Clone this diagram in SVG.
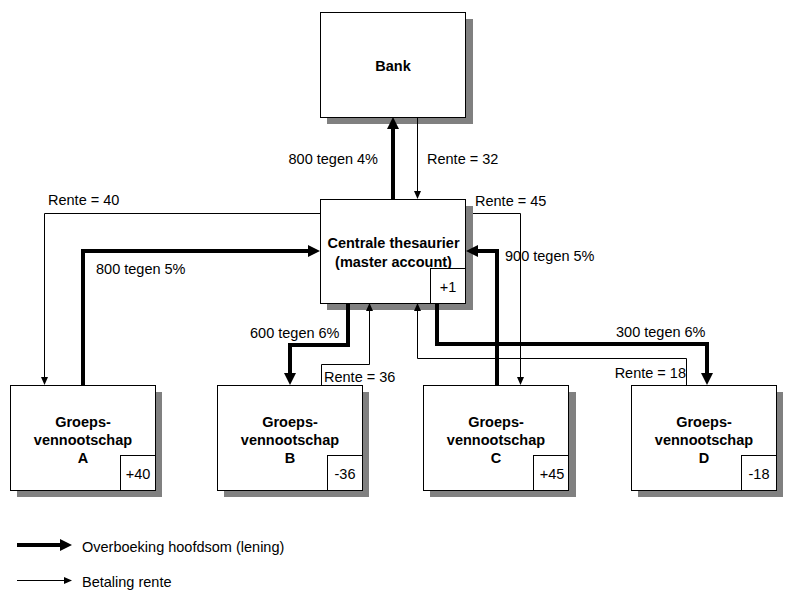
<svg xmlns="http://www.w3.org/2000/svg" width="800" height="598" viewBox="0 0 800 598">
<style>
text{font-family:"Liberation Sans",Arial,sans-serif;font-size:14.5px;fill:#000}
.b{font-weight:bold}
.m{text-anchor:middle}
.e{text-anchor:end}
.box{fill:#fff;stroke:#000;stroke-width:1}
.sh{fill:#808080}
.thick{fill:none;stroke:#000;stroke-width:4;stroke-linejoin:miter;marker-end:url(#ah)}
.thin{fill:none;stroke:#000;stroke-width:1;marker-end:url(#al)}
</style>
<defs>
<marker id="ah" markerUnits="userSpaceOnUse" markerWidth="12" markerHeight="12" refX="0" refY="6" orient="auto"><path d="M0,0 L12,6 L0,12 z" fill="#000"/></marker>
<marker id="al" markerUnits="userSpaceOnUse" markerWidth="8" markerHeight="8" refX="0" refY="4" orient="auto"><path d="M0,0.5 L8,4 L0,7.5 z" fill="#000"/></marker>
</defs>
<rect width="800" height="598" fill="#fff"/>

<g id="bank">
<rect class="sh" x="327" y="19" width="146" height="105"/>
<rect class="box" x="320.5" y="12.5" width="145" height="105"/>
<text class="b m" x="393" y="71">Bank</text>
</g>

<g id="centrale">
<rect class="sh" x="327" y="206" width="146" height="104"/>
<rect class="box" x="320.5" y="199.5" width="145" height="104"/>
<text class="b m" x="393.5" y="248">Centrale thesaurier</text>
<text class="b m" x="393.5" y="266.5">(master account)</text>
<rect class="box" x="430.5" y="268.5" width="35" height="35"/>
<text class="m" x="448" y="292">+1</text>
</g>

<g id="groepA">
<rect class="sh" x="17" y="392" width="145" height="105"/>
<rect class="box" x="10.5" y="385.5" width="145" height="105"/>
<text class="b m" x="83" y="427">Groeps-</text>
<text class="b m" x="83" y="445">vennootschap</text>
<text class="b m" x="83" y="463">A</text>
<rect class="box" x="120.5" y="455.5" width="35" height="35"/>
<text class="m" x="138" y="479">+40</text>
</g>

<g id="groepB">
<rect class="sh" x="224" y="392" width="145" height="105"/>
<rect class="box" x="217.5" y="385.5" width="145" height="105"/>
<text class="b m" x="290" y="427">Groeps-</text>
<text class="b m" x="290" y="445">vennootschap</text>
<text class="b m" x="290" y="463">B</text>
<rect class="box" x="327.5" y="455.5" width="35" height="35"/>
<text class="m" x="345" y="479">-36</text>
</g>

<g id="groepC">
<rect class="sh" x="430" y="392" width="146" height="105"/>
<rect class="box" x="423.5" y="385.5" width="145" height="105"/>
<text class="b m" x="496" y="427">Groeps-</text>
<text class="b m" x="496" y="445">vennootschap</text>
<text class="b m" x="496" y="463">C</text>
<rect class="box" x="533.5" y="455.5" width="35" height="35"/>
<text class="m" x="552" y="479">+45</text>
</g>

<g id="groepD">
<rect class="sh" x="638" y="392" width="145" height="105"/>
<rect class="box" x="631.5" y="385.5" width="145" height="105"/>
<text class="b m" x="704" y="427">Groeps-</text>
<text class="b m" x="704" y="445">vennootschap</text>
<text class="b m" x="704" y="463">D</text>
<rect class="box" x="741.5" y="455.5" width="35" height="35"/>
<text class="m" x="759" y="479">-18</text>
</g>

<g id="connectors">
<path class="thick" d="M393,199 V129"/>
<path class="thin" d="M417.5,117 V191"/>
<path class="thin" d="M320,213.5 H44.5 V377"/>
<path class="thin" d="M473,213.5 H520.5 V377"/>
<path class="thin" d="M321.5,385 V364.5 H369.5 V311"/>
<path class="thin" d="M686.5,385 V358.5 H417.5 V311"/>
<path class="thick" d="M83,385 V251 H308"/>
<path class="thick" d="M348,303 V345 H290 V373"/>
<path class="thick" d="M497,385 V251 H478"/>
<path class="thick" d="M437,303 V344 H707 V373"/>
</g>

<g id="labels">
<text class="e" x="378" y="164">800 tegen 4%</text>
<text x="427" y="164">Rente = 32</text>
<text x="48" y="205">Rente = 40</text>
<text x="475" y="206">Rente = 45</text>
<text x="96" y="274">800 tegen 5%</text>
<text x="505" y="261">900 tegen 5%</text>
<text x="250" y="338">600 tegen 6%</text>
<text x="616" y="337">300 tegen 6%</text>
<text x="324" y="382">Rente = 36</text>
<text class="e" x="686" y="378">Rente = 18</text>
</g>

<g id="legend">
<path class="thick" d="M17,545 H60"/>
<text x="82" y="552">Overboeking hoofdsom (lening)</text>
<path class="thin" d="M17,580.5 H64"/>
<text x="82" y="587">Betaling rente</text>
</g>
</svg>
